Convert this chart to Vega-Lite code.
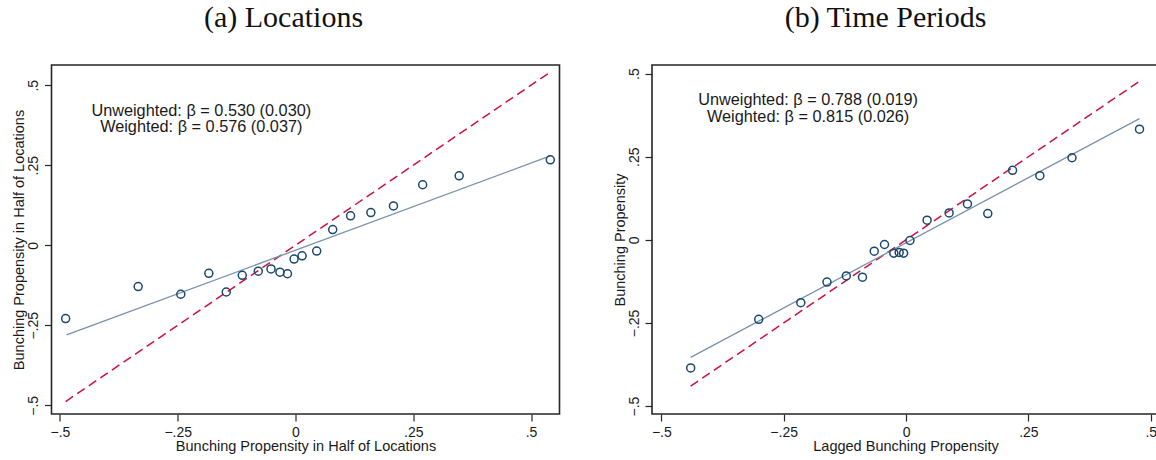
{
  "$schema": "https://vega.github.io/schema/vega-lite/v6.json",
  "padding": {"left": 10.5, "top": 2, "right": 0, "bottom": 0},
  "background": "white",
  "spacing": 50.5,
  "config": {
    "font": "Liberation Sans",
    "view": {"stroke": "#262626", "strokeWidth": 1.6},
    "axis": {
      "grid": false,
      "domain": false,
      "ticks": true,
      "tickSize": 7,
      "tickColor": "#262626",
      "tickWidth": 1.2,
      "labelFont": "Liberation Sans",
      "labelFontSize": 14,
      "labelColor": "#1a1a1a",
      "titleFont": "Liberation Sans",
      "titleFontSize": 14.5,
      "titleFontWeight": "normal",
      "titleColor": "#1a1a1a",
      "labelExpr": "replace(format(datum.value, '~g'), '0.', '.')"
    },
    "axisX": {"labelPadding": 4, "titlePadding": 0},
    "axisY": {"labelAngle": -90, "labelPadding": 4, "titlePadding": 0}
  },
  "datasets": {
    "locPts": [
      {"x": -0.488, "y": -0.229}, {"x": -0.334, "y": -0.129}, {"x": -0.2435, "y": -0.153},
      {"x": -0.184, "y": -0.0875}, {"x": -0.147, "y": -0.146}, {"x": -0.113, "y": -0.094},
      {"x": -0.079, "y": -0.081}, {"x": -0.052, "y": -0.074}, {"x": -0.033, "y": -0.084},
      {"x": -0.017, "y": -0.089}, {"x": -0.003, "y": -0.043}, {"x": 0.014, "y": -0.033},
      {"x": 0.045, "y": -0.018}, {"x": 0.079, "y": 0.049}, {"x": 0.117, "y": 0.092},
      {"x": 0.160, "y": 0.102}, {"x": 0.208, "y": 0.123}, {"x": 0.270, "y": 0.189},
      {"x": 0.3475, "y": 0.217}, {"x": 0.541, "y": 0.267}
    ],
    "locFit": [{"x": -0.486, "y": -0.280}, {"x": 0.541, "y": 0.279}],
    "locDiag": [{"x": -0.488, "y": -0.488}, {"x": 0.541, "y": 0.541}],
    "locText": [
      {"x": -0.2, "y": 0.42, "label": "Unweighted: β = 0.530 (0.030)"},
      {"x": -0.2, "y": 0.37, "label": "Weighted: β = 0.576 (0.037)"}
    ],
    "timePts": [
      {"x": -0.440, "y": -0.3855}, {"x": -0.301, "y": -0.239}, {"x": -0.215, "y": -0.189},
      {"x": -0.1615, "y": -0.127}, {"x": -0.122, "y": -0.1085}, {"x": -0.089, "y": -0.1125},
      {"x": -0.065, "y": -0.034}, {"x": -0.044, "y": -0.014}, {"x": -0.025, "y": -0.040},
      {"x": -0.014, "y": -0.038}, {"x": -0.005, "y": -0.040}, {"x": 0.008, "y": -0.002},
      {"x": 0.043, "y": 0.059}, {"x": 0.088, "y": 0.081}, {"x": 0.1255, "y": 0.108},
      {"x": 0.167, "y": 0.079}, {"x": 0.2176, "y": 0.209}, {"x": 0.2734, "y": 0.193},
      {"x": 0.339, "y": 0.247}, {"x": 0.477, "y": 0.333}
    ],
    "timeFit": [{"x": -0.44, "y": -0.3535}, {"x": 0.477, "y": 0.3645}],
    "timeDiag": [{"x": -0.44, "y": -0.44}, {"x": 0.477, "y": 0.477}],
    "timeText": [
      {"x": -0.2, "y": 0.4217, "label": "Unweighted: β = 0.788 (0.019)"},
      {"x": -0.2, "y": 0.371, "label": "Weighted: β = 0.815 (0.026)"}
    ]
  },
  "hconcat": [
    {
      "width": 508,
      "height": 349,
      "title": {"text": "(a) Locations", "font": "Liberation Serif", "fontSize": 30, "fontWeight": "normal", "color": "#111", "anchor": "middle", "frame": "group", "dx": -22, "baseline": "alphabetic", "offset": 8},
      "encoding": {
        "x": {"field": "x", "type": "quantitative", "scale": {"domain": [-0.518, 0.5605], "nice": false, "zero": false}, "axis": {"values": [-0.5, -0.25, 0, 0.25, 0.5], "title": "Bunching Propensity in Half of Locations"}},
        "y": {"field": "y", "type": "quantitative", "scale": {"domain": [-0.527, 0.563], "nice": false, "zero": false}, "axis": {"values": [-0.5, -0.25, 0, 0.25, 0.5], "title": "Bunching Propensity in Half of Locations"}}
      },
      "layer": [
        {"data": {"name": "locDiag"}, "mark": {"type": "line", "color": "#d0103f", "strokeWidth": 1.5, "strokeDash": [9, 5]}},
        {"data": {"name": "locFit"}, "mark": {"type": "line", "color": "#7791ad", "strokeWidth": 1.3}},
        {"data": {"name": "locPts"}, "mark": {"type": "point", "shape": "circle", "filled": false, "size": 64, "strokeWidth": 1.5, "color": "#1a476f", "opacity": 1}},
        {"data": {"name": "locText"}, "mark": {"type": "text", "font": "Liberation Sans", "fontSize": 16.3, "align": "center", "baseline": "middle", "color": "#1a1a1a"}, "encoding": {"text": {"field": "label", "type": "nominal"}}}
      ]
    },
    {
      "width": 507,
      "height": 349,
      "title": {"text": "(b) Time Periods", "font": "Liberation Serif", "fontSize": 30, "fontWeight": "normal", "color": "#111", "anchor": "middle", "frame": "group", "dx": -20, "baseline": "alphabetic", "offset": 8},
      "encoding": {
        "x": {"field": "x", "type": "quantitative", "scale": {"domain": [-0.519, 0.5168], "nice": false, "zero": false}, "axis": {"values": [-0.5, -0.25, 0, 0.25, 0.5], "title": "Lagged Bunching Propensity"}},
        "y": {"field": "y", "type": "quantitative", "scale": {"domain": [-0.524, 0.526], "nice": false, "zero": false}, "axis": {"values": [-0.5, -0.25, 0, 0.25, 0.5], "title": "Bunching Propensity"}}
      },
      "layer": [
        {"data": {"name": "timeDiag"}, "mark": {"type": "line", "color": "#d0103f", "strokeWidth": 1.5, "strokeDash": [9, 5]}},
        {"data": {"name": "timeFit"}, "mark": {"type": "line", "color": "#7791ad", "strokeWidth": 1.3}},
        {"data": {"name": "timePts"}, "mark": {"type": "point", "shape": "circle", "filled": false, "size": 64, "strokeWidth": 1.5, "color": "#1a476f", "opacity": 1}},
        {"data": {"name": "timeText"}, "mark": {"type": "text", "font": "Liberation Sans", "fontSize": 16.3, "align": "center", "baseline": "middle", "color": "#1a1a1a"}, "encoding": {"text": {"field": "label", "type": "nominal"}}}
      ]
    }
  ]
}
